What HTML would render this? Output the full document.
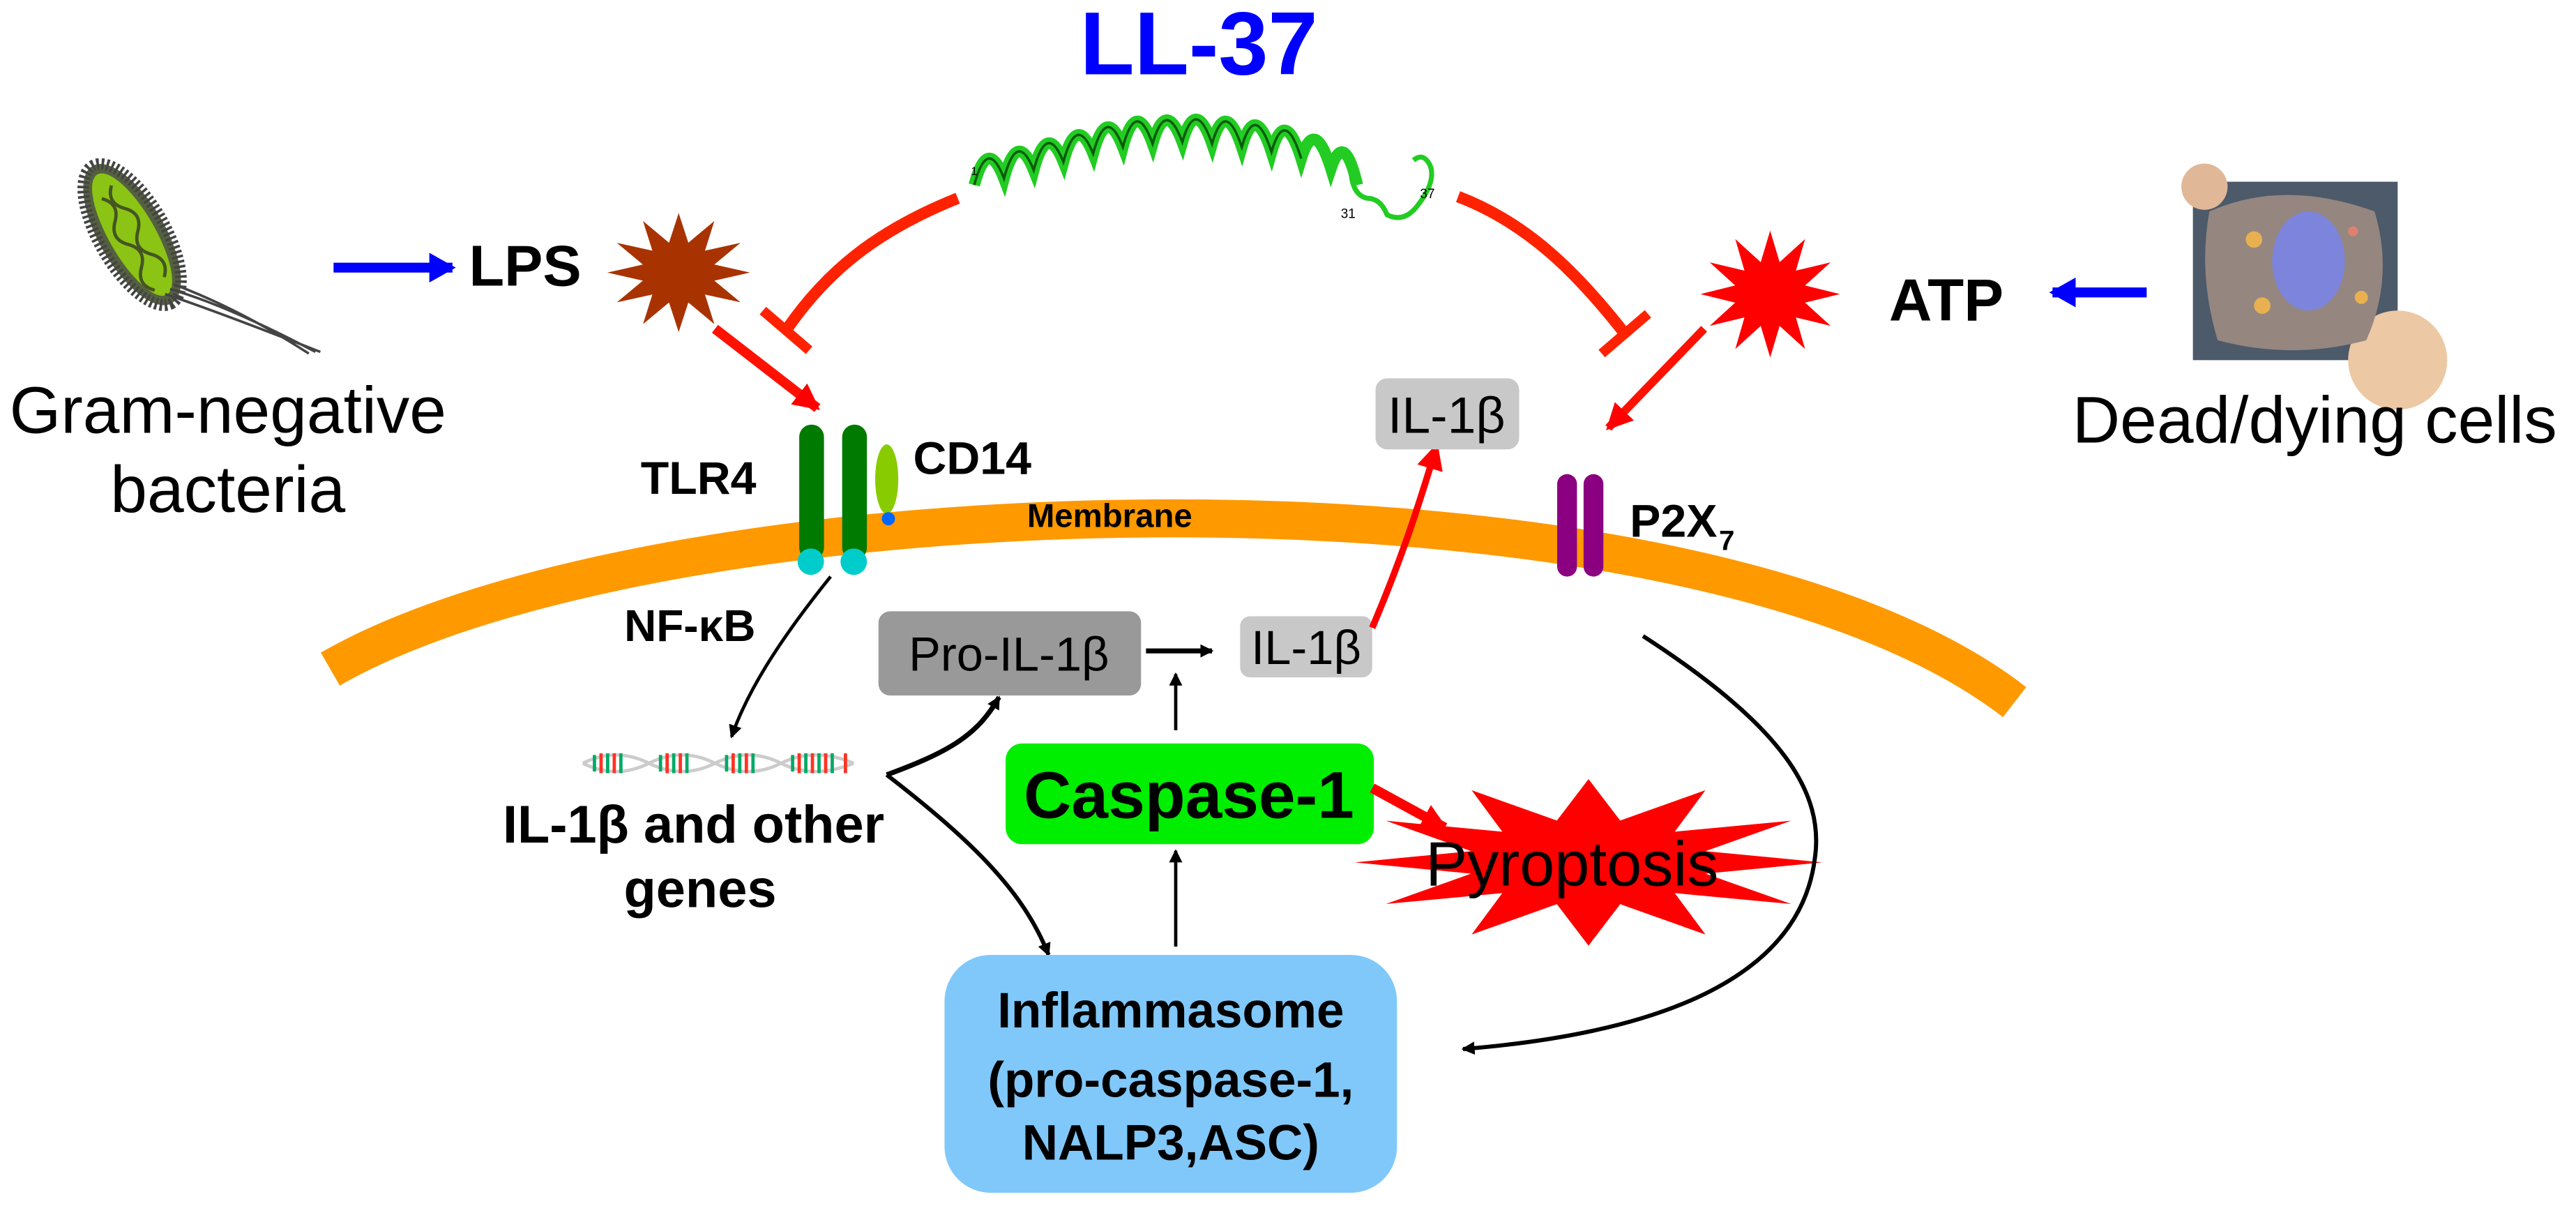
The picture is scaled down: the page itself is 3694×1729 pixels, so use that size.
<!DOCTYPE html>
<html><head><meta charset="utf-8"><style>
html,body{margin:0;padding:0;background:#fff;}
svg{display:block;}
text{font-family:"Liberation Sans",Arial,sans-serif;}
</style></head><body>
<svg width="3694" height="1729" viewBox="0 0 1560 730" preserveAspectRatio="none" xmlns="http://www.w3.org/2000/svg">
<defs>
<marker id="ab" markerWidth="8" markerHeight="8" refX="7" refY="4" orient="auto" markerUnits="userSpaceOnUse"><path d="M0,0 L8,4 L0,8 z" fill="#000"/></marker>
<marker id="ar" markerWidth="16" markerHeight="16" refX="14" refY="8" orient="auto" markerUnits="userSpaceOnUse"><path d="M0,0 L16,8 L0,16 z" fill="#f00"/></marker>
<marker id="abl" markerWidth="16" markerHeight="18" refX="14" refY="9" orient="auto" markerUnits="userSpaceOnUse"><path d="M0,0 L16,9 L0,18 z" fill="#00f"/></marker>
<polygon id="star" points="453,160 429,166.5 446.6,184 422.7,177.7 429,201.6 411.5,184.1 405,208 398.5,184.1 381,201.6 387.3,177.7 363.4,184 380.9,166.5 357,160 380.9,153.5 363.4,136 387.3,142.3 381,118.4 398.5,135.9 405,112 411.5,135.9 429,118.4 422.7,142.3 446.6,136 429,153.5"/>
</defs>

<!-- membrane -->
<path d="M 200 405 C 400 290, 1020 270, 1220 425" fill="none" stroke="#ff9900" stroke-width="23"/>
<text x="622" y="319" font-size="20" font-weight="bold">Membrane</text>

<!-- LL-37 -->
<text x="726" y="45" font-size="54" font-weight="bold" fill="#0000ff" text-anchor="middle">LL-37</text>
<path d="M590 112 q8 -30 18 -4 q8 -30 18 -5 q8 -30 18 -5 q8 -30 18 -5 q8 -30 18 -4 q8 -30 18 -2 q8 -28 18 -1 q8 -28 18 1 q8 -28 18 2 q8 -28 18 3 q8 -28 18 4 q8 -26 18 6 q8 -24 16 10" fill="none" stroke="#22cc22" stroke-width="7"/>
<path d="M590 112 q8 -30 18 -4 q8 -30 18 -5 q8 -30 18 -5 q8 -30 18 -5 q8 -30 18 -4 q8 -30 18 -2 q8 -28 18 -1 q8 -28 18 1 q8 -28 18 2 q8 -28 18 3 q8 -28 18 4" fill="none" stroke="#0a5a0a" stroke-width="1.5"/>
<path d="M818 100 q0 18 10 20 q8 0 12 10 q10 5 18 -5 q12 -15 8 -25 q-4 -8 -10 -3" fill="none" stroke="#22cc22" stroke-width="3"/>
<text x="588" y="106" font-size="7">1</text>
<text x="812" y="132" font-size="8">31</text>
<text x="860" y="120" font-size="8">37</text>

<!-- inhibition arcs -->
<path d="M580 120 C 530 140, 500 165, 476 200" fill="none" stroke="#ff2200" stroke-width="7"/>
<line x1="462" y1="188" x2="490" y2="212" stroke="#ff2200" stroke-width="6"/>
<path d="M883 119 C 925 135, 955 165, 984 202" fill="none" stroke="#ff2200" stroke-width="7"/>
<line x1="970" y1="214" x2="998" y2="190" stroke="#ff2200" stroke-width="6"/>

<!-- bacterium -->
<g transform="translate(80,142) rotate(60)">
<ellipse cx="0" cy="0" rx="48" ry="20" fill="#556040" stroke="#444" stroke-width="7" stroke-dasharray="1.5 1.5"/>
<ellipse cx="0" cy="0" rx="42" ry="14" fill="#8bc414"/>
<path d="M-32 -4 q8 8 16 0 q8 -8 16 0 q8 8 16 0 q8 -8 16 0" fill="none" stroke="#445522" stroke-width="2"/>
<path d="M-28 5 q8 -8 16 0 q8 8 16 0 q8 -8 16 0 q8 8 16 0" fill="none" stroke="#445522" stroke-width="2"/>
</g>
<path d="M100 178 q30 10 94 35 M103 175 q35 10 88 38 M105 172 q40 15 82 42" fill="none" stroke="#444" stroke-width="1.5"/>
<text x="138" y="262" font-size="40" text-anchor="middle">Gram-negative</text>
<text x="138" y="310" font-size="40" text-anchor="middle">bacteria</text>

<!-- LPS -->
<line x1="202" y1="162" x2="274" y2="162" stroke="#00f" stroke-width="6" marker-end="url(#abl)"/>
<text x="284" y="173" font-size="35" font-weight="bold">LPS</text>
<use href="#star" fill="#a83300" transform="translate(411,165) scale(0.9,0.75) translate(-405,-160)"/>
<line x1="433" y1="199" x2="495" y2="247" stroke="#ff1100" stroke-width="6" marker-end="url(#ar)"/>

<!-- TLR4 -->
<rect x="484" y="257" width="15" height="82" rx="7.5" fill="#007a00"/>
<rect x="510" y="257" width="15" height="82" rx="7.5" fill="#007a00"/>
<circle cx="491" cy="340" r="8" fill="#00cccc"/>
<circle cx="517" cy="340" r="8" fill="#00cccc"/>
<ellipse cx="537" cy="290" rx="7" ry="21" fill="#88cc00"/>
<circle cx="538" cy="314" r="4" fill="#0066ff"/>
<text x="388" y="299" font-size="28" font-weight="bold">TLR4</text>
<text x="553" y="287" font-size="28" font-weight="bold">CD14</text>

<!-- NF-kB -->
<text x="378" y="388" font-size="27" font-weight="bold">NF-κB</text>
<path d="M503 349 C 470 390, 452 420, 443 446" fill="none" stroke="#000" stroke-width="2" marker-end="url(#ab)"/>

<!-- DNA -->
<g stroke-width="2">
<path d="M353 462 q20 -10 40 0 q20 10 40 0 q20 -10 40 0 q20 10 44 0" fill="none" stroke="#ccc"/>
<path d="M353 462 q20 10 40 0 q20 -10 40 0 q20 10 40 0 q20 -10 44 0" fill="none" stroke="#ccc"/>
<path d="M360 457v10M368 456v12M376 456v12M400 457v10M408 456v12M416 456v12M440 457v10M448 456v12M456 456v12M480 457v10M488 456v12M496 456v12M504 456v12" stroke="#00aa66"/>
<path d="M364 456v12M372 456v12M404 456v12M412 456v12M444 456v12M452 456v12M484 456v12M492 456v12M500 456v12M512 456v12" stroke="#ff3322"/>
</g>
<text x="420" y="510" font-size="32" font-weight="bold" text-anchor="middle">IL-1β and other</text>
<text x="424" y="549" font-size="32" font-weight="bold" text-anchor="middle">genes</text>

<!-- Pro-IL-1b -->
<rect x="532" y="370" width="159" height="51" rx="7" fill="#999"/>
<text x="611" y="406" font-size="29" text-anchor="middle">Pro-IL-1β</text>
<line x1="694" y1="394" x2="734" y2="394" stroke="#000" stroke-width="3" marker-end="url(#ab)"/>
<rect x="751" y="373" width="80" height="37" rx="6" fill="#c8c8c8"/>
<text x="791" y="402" font-size="29" text-anchor="middle">IL-1β</text>
<line x1="712" y1="442" x2="712" y2="408" stroke="#000" stroke-width="2" marker-end="url(#ab)"/>

<!-- DNA branches -->
<path d="M537 469 C 575 455, 592 445, 605 422" fill="none" stroke="#000" stroke-width="3" marker-end="url(#ab)"/>
<path d="M537 469 C 590 510, 620 540, 635 578" fill="none" stroke="#000" stroke-width="2.5" marker-end="url(#ab)"/>

<!-- Caspase-1 -->
<rect x="609" y="450" width="223" height="61" rx="10" fill="#00ee00"/>
<text x="720" y="495" font-size="40" font-weight="bold" text-anchor="middle">Caspase-1</text>
<line x1="712" y1="573" x2="712" y2="515" stroke="#000" stroke-width="2" marker-end="url(#ab)"/>
<line x1="831" y1="477" x2="875" y2="501" stroke="#ff0000" stroke-width="6" marker-end="url(#ar)"/>

<!-- Pyroptosis -->
<use href="#star" fill="#ff0000" transform="translate(962,522) scale(2.95,1.05) translate(-405,-160)"/>
<text x="952" y="536" font-size="38" text-anchor="middle">Pyroptosis</text>

<!-- Inflammasome -->
<rect x="572" y="578" width="274" height="144" rx="28" fill="#80c8fa"/>
<text x="709" y="622" font-size="30" font-weight="bold" text-anchor="middle">Inflammasome</text>
<text x="709" y="664" font-size="30" font-weight="bold" text-anchor="middle">(pro-caspase-1,</text>
<text x="709" y="702" font-size="30" font-weight="bold" text-anchor="middle">NALP3,ASC)</text>

<!-- P2X7 path -->
<path d="M995 385 C 1080 440, 1105 480, 1099 520 C 1090 590, 1010 625, 886 635" fill="none" stroke="#000" stroke-width="2.5" marker-end="url(#ab)"/>

<!-- IL-1b top -->
<path d="M831 380 C 848 340, 858 310, 870 270" fill="none" stroke="#ff0000" stroke-width="4" marker-end="url(#ar)"/>
<rect x="833" y="229" width="87" height="43" rx="7" fill="#c8c8c8"/>
<text x="876" y="262" font-size="31" text-anchor="middle">IL-1β</text>

<!-- P2X7 -->
<rect x="943" y="287" width="12" height="62" rx="6" fill="#8a0080"/>
<rect x="959" y="287" width="12" height="62" rx="6" fill="#8a0080"/>
<text x="987" y="325" font-size="28" font-weight="bold">P2X</text>
<text x="1041" y="333" font-size="17" font-weight="bold">7</text>

<!-- ATP -->
<use href="#star" fill="#ff0000" transform="translate(1072,178) scale(0.88,0.8) translate(-405,-160)"/>
<line x1="1032" y1="199" x2="974" y2="259" stroke="#ff1100" stroke-width="5" marker-end="url(#ar)"/>
<text x="1144" y="194" font-size="36" font-weight="bold">ATP</text>
<line x1="1300" y1="177" x2="1243" y2="177" stroke="#00f" stroke-width="6" marker-end="url(#abl)"/>

<!-- dead cell -->
<rect x="1328" y="110" width="124" height="108" fill="#4c5a6a"/>
<circle cx="1335" cy="113" r="14" fill="#e0b898"/>
<circle cx="1452" cy="218" r="30" fill="#ecc8a4"/>
<path d="M1338 128 q45 -20 100 0 q12 40 -5 78 q-45 12 -90 0 q-12 -40 -5 -78z" fill="#958680"/>
<ellipse cx="1398" cy="158" rx="22" ry="30" fill="#7d84dc"/>
<circle cx="1365" cy="145" r="5" fill="#e8b050"/>
<circle cx="1370" cy="185" r="5" fill="#e8b050"/>
<circle cx="1430" cy="180" r="4" fill="#e8b050"/>
<circle cx="1425" cy="140" r="3" fill="#e08070"/>
<text x="1255" y="268" font-size="40">Dead/dying cells</text>
</svg>
</body></html>
